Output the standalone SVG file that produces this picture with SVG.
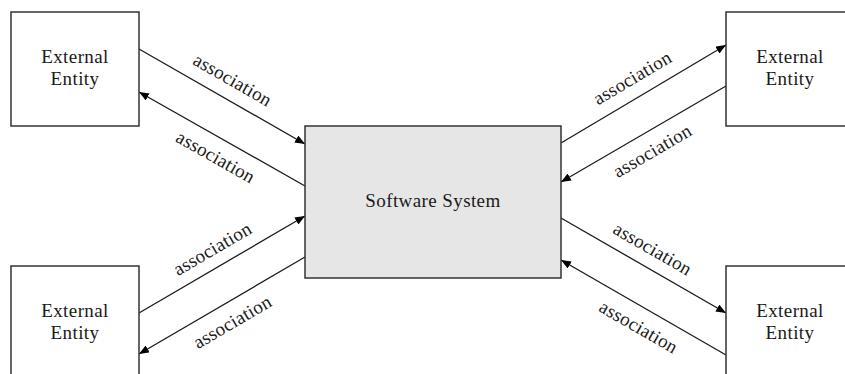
<svg xmlns="http://www.w3.org/2000/svg" width="845" height="374" viewBox="0 0 845 374">
  <style>
    .box { fill: #ffffff; stroke: #333333; stroke-width: 1.5; }
    .core { fill: #e6e6e6; stroke: #333333; stroke-width: 1.5; }
    .name { font-family: "Liberation Serif", "DejaVu Serif", serif; font-size: 19px; letter-spacing: 0.4px; fill: #1a1a1a; text-anchor: middle; }
    .link { stroke: #1a1a1a; stroke-width: 1.3; fill: none; marker-end: url(#head); }
    .lbl { font-family: "Liberation Serif", "DejaVu Serif", serif; font-size: 19px; letter-spacing: 0.25px; fill: #1a1a1a; text-anchor: middle; }
  </style>
  <defs>
    <marker id="head" viewBox="0 0 10 8" refX="10" refY="4" markerWidth="10" markerHeight="8" markerUnits="userSpaceOnUse" orient="auto">
      <path d="M0,0 L10,4 L0,8 Z" fill="#000000"/>
    </marker>
  </defs>

  <rect width="845" height="374" fill="#ffffff"/>

  <!-- connectors -->
  <g id="connectors">
    <line class="link" x1="139" y1="49" x2="305" y2="144"/>
    <line class="link" x1="305" y1="186" x2="139" y2="92"/>
    <line class="link" x1="561" y1="143" x2="726" y2="45"/>
    <line class="link" x1="726" y1="86" x2="561" y2="182"/>
    <line class="link" x1="139" y1="313" x2="305" y2="216"/>
    <line class="link" x1="305" y1="257" x2="139" y2="354"/>
    <line class="link" x1="561" y1="218" x2="726" y2="313"/>
    <line class="link" x1="726" y1="355" x2="561" y2="260"/>

    <text class="lbl" transform="translate(232,81) rotate(29.8)" dy="5">association</text>
    <text class="lbl" transform="translate(215,158) rotate(29.5)" dy="5">association</text>
    <text class="lbl" transform="translate(633,79) rotate(-30.7)" dy="5">association</text>
    <text class="lbl" transform="translate(653,152) rotate(-30.2)" dy="5">association</text>
    <text class="lbl" transform="translate(213,250) rotate(-30.3)" dy="5">association</text>
    <text class="lbl" transform="translate(233,323) rotate(-30.3)" dy="5">association</text>
    <text class="lbl" transform="translate(652,250) rotate(29.9)" dy="5">association</text>
    <text class="lbl" transform="translate(638,328) rotate(29.9)" dy="5">association</text>
  </g>

  <!-- central system -->
  <g id="software-system">
    <rect class="core" x="305" y="126" width="256" height="152"/>
    <text class="name" x="433" y="207">Software System</text>
  </g>

  <!-- external entities -->
  <g id="entity-top-left">
    <rect class="box" x="11" y="12" width="128" height="114"/>
    <text class="name" x="75" y="63">External</text>
    <text class="name" x="75" y="85">Entity</text>
  </g>
  <g id="entity-top-right">
    <rect class="box" x="726" y="12" width="128" height="114"/>
    <text class="name" x="790" y="63">External</text>
    <text class="name" x="790" y="85">Entity</text>
  </g>
  <g id="entity-bottom-left">
    <rect class="box" x="11" y="266" width="128" height="114"/>
    <text class="name" x="75" y="317">External</text>
    <text class="name" x="75" y="339">Entity</text>
  </g>
  <g id="entity-bottom-right">
    <rect class="box" x="726" y="266" width="128" height="114"/>
    <text class="name" x="790" y="317">External</text>
    <text class="name" x="790" y="339">Entity</text>
  </g>
</svg>
